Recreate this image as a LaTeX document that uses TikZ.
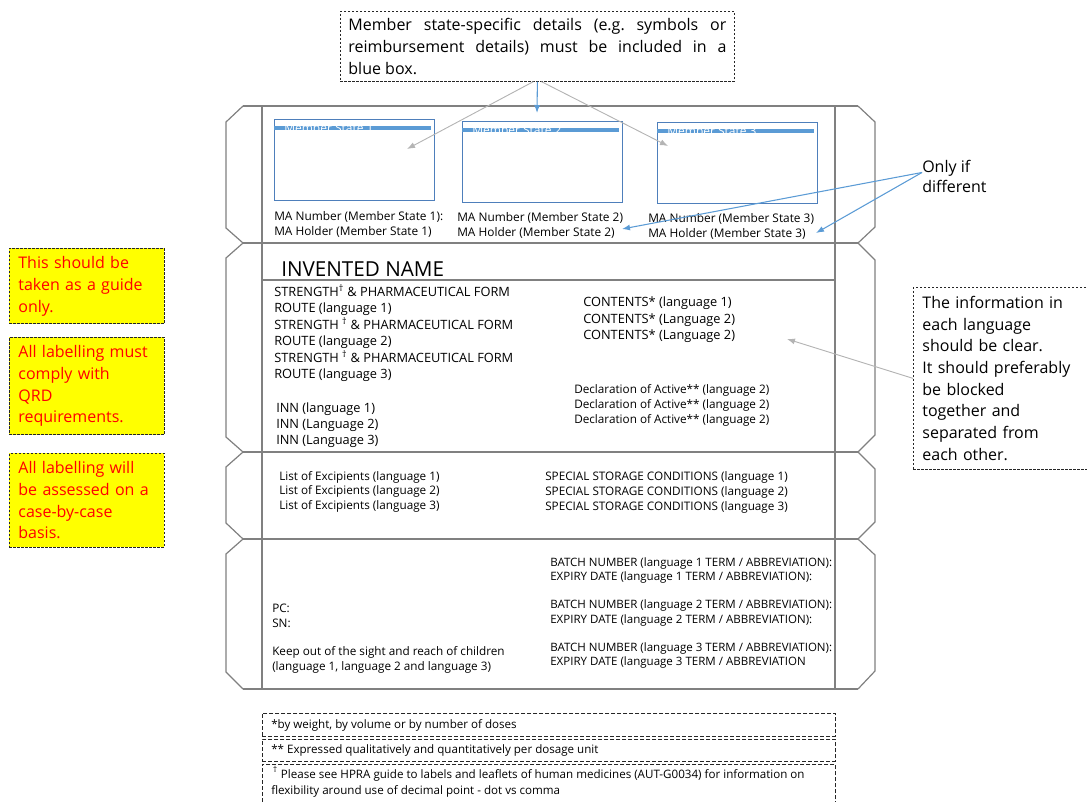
\documentclass[tikz,border=0pt]{standalone}
\usepackage{fontspec}
\setmainfont{Open Sans}
\usetikzlibrary{arrows.meta}
\definecolor{cgray}{HTML}{808080}
\definecolor{agray}{HTML}{B4B4B4}
\definecolor{sblue}{HTML}{5B9BD5}
\definecolor{bblue}{HTML}{4E7FBB}
\definecolor{yel}{HTML}{FFFF00}
\definecolor{rtxt}{HTML}{FF0000}
\newcommand{\fsz}[2]{\fontsize{#1}{#2}\selectfont}
\frenchspacing
\begin{document}
\begin{tikzpicture}[x=0.75pt,y=-0.75pt,
 carton/.style={draw=cgray,line width=0.9pt,line join=miter},
 txt/.style={anchor=base west,inner sep=0pt,font=\fsz{9.6}{11}},
 stxt/.style={anchor=base west,inner sep=0pt,font=\fsz{8.8}{10}},
 btxt/.style={anchor=base west,inner sep=0pt,font=\fsz{8.65}{10}},
 matxt/.style={anchor=base west,inner sep=0pt,font=\fsz{8.9}{10}},
 fntxt/.style={anchor=base west,inner sep=0pt,font=\fsz{8.7}{10}},
 notebox/.style={draw=black!85,line width=0.6pt,dash pattern=on 1.8pt off 1.2pt},
 fnbox/.style={draw=black!85,line width=0.6pt,dash pattern=on 3pt off 1.5pt,anchor=north west,inner sep=0pt,minimum width=429.75pt},
 ybox/.style={notebox,fill=yel,anchor=north west,align=left,text=rtxt,font=\fsz{12}{16.3},inner xsep=6.75pt,inner ysep=6pt,text width=102.75pt},
 msbox/.style={draw=bblue,line width=0.8pt,anchor=north west,minimum width=120pt,minimum height=61pt,inner sep=0pt},
 msbar/.style={draw=sblue,line width=2.4pt},
 mslabel/.style={anchor=west,inner sep=0pt,text=white,font=\fsz{9}{10}},
 garrow/.style={draw=agray,line width=0.7pt,-{Latex[length=6pt,width=4.5pt]}},
 barrow/.style={draw=sblue,line width=0.8pt,-{Latex[length=6pt,width=4.5pt]}},
]
\useasboundingbox (0,0) rectangle (1087,801);

% ---------- carton outline ----------
\draw[carton] (243,106) -- (858,106);
\draw[carton] (243,243) -- (858,243);
\draw[carton] (243,452) -- (858,452);
\draw[carton] (243,539) -- (858,539);
\draw[carton] (243,689) -- (858,689);
\draw[carton] (262,106) -- (262,689);
\draw[carton] (835,106) -- (835,689);
\draw[carton] (262,280) -- (835,280);
\draw[carton] (243,106) -- (226,122) -- (226,228) -- (243,243) -- (226,258) -- (226,437) -- (243,452)
  -- (226,467) -- (226,523) -- (243,539) -- (226,554) -- (226,672) -- (243,689);
\draw[carton] (858,106) -- (875,122) -- (875,227) -- (858,243) -- (875,260) -- (875,435) -- (858,452)
  -- (875,469) -- (875,522) -- (858,539) -- (875,555) -- (875,671) -- (858,689);

% ---------- member state boxes ----------
\node[msbox] (ms1) at (274,119) {};
\node[msbox] (ms2) at (462,121) {};
\node[msbox] (ms3) at (657,122) {};
\draw[msbar] ([yshift=-6.75pt]ms1.north west) -- ++(157,0);
\draw[msbar] ([yshift=-6.75pt]ms2.north west) -- ++(157,0);
\draw[msbar] ([yshift=-6.75pt]ms3.north west) -- ++(157,0);
\node[mslabel] (ml1) at ([xshift=7.5pt,yshift=-6.75pt]ms1.north west) {Member State 1};
\node[mslabel] (ml2) at ([xshift=7.5pt,yshift=-6.75pt]ms2.north west) {Member State 2};
\node[mslabel] (ml3) at ([xshift=7.5pt,yshift=-6.75pt]ms3.north west) {Member State 3};

\node[matxt] (man1) at (274,220) {MA Number (Member State 1):};
\node[matxt] (mah1) at (274,235) {MA Holder (Member State 1)};
\node[matxt] (man2) at (457,221) {MA Number (Member State 2)};
\node[matxt] (mah2) at (457,236) {MA Holder (Member State 2)};
\node[matxt] (man3) at (648,222) {MA Number (Member State 3)};
\node[matxt] (mah3) at (648,237) {MA Holder (Member State 3)};

% ---------- main panel ----------
\node[anchor=base west,inner sep=0pt,font=\fsz{15.5}{18}] (inv) at (281,276) {INVENTED NAME};
\node[txt] (s1) at (274,296) {STRENGTH\textsuperscript{†} \& PHARMACEUTICAL FORM};
\node[txt] (r1) at (274,312) {ROUTE (language 1)};
\node[txt] (s2) at (274,329) {STRENGTH \textsuperscript{†} \& PHARMACEUTICAL FORM};
\node[txt] (r2) at (274,345) {ROUTE (language 2)};
\node[txt] (s3) at (274,362) {STRENGTH \textsuperscript{†} \& PHARMACEUTICAL FORM};
\node[txt] (r3) at (274,378) {ROUTE (language 3)};
\node[txt] (inn1) at (276,412) {INN (language 1)};
\node[txt] (inn2) at (276,428) {INN (Language 2)};
\node[txt] (inn3) at (276,444) {INN (Language 3)};
\node[txt] (c1) at (583,306) {CONTENTS* (language 1)};
\node[txt] (c2) at (583,323) {CONTENTS* (Language 2)};
\node[txt] (c3) at (583,339) {CONTENTS* (Language 2)};
\node[stxt] (d1) at (574,393) {Declaration of Active** (language 2)};
\node[stxt] (d2) at (574,408) {Declaration of Active** (language 2)};
\node[stxt] (d3) at (574,423) {Declaration of Active** (language 2)};

% ---------- side panel ----------
\node[stxt] (e1) at (279,480) {List of Excipients (language 1)};
\node[stxt] (e2) at (279,494) {List of Excipients (language 2)};
\node[stxt] (e3) at (279,509) {List of Excipients (language 3)};
\node[stxt] (sp1) at (545,480) {SPECIAL STORAGE CONDITIONS (language 1)};
\node[stxt] (sp2) at (545,495) {SPECIAL STORAGE CONDITIONS (language 2)};
\node[stxt] (sp3) at (545,510) {SPECIAL STORAGE CONDITIONS (language 3)};

% ---------- bottom panel ----------
\node[btxt] (b1) at (550,566) {BATCH NUMBER (language 1 TERM / ABBREVIATION):};
\node[btxt] (x1) at (550,580) {EXPIRY DATE (language 1 TERM / ABBREVIATION):};
\node[btxt] (b2) at (550,608) {BATCH NUMBER (language 2 TERM / ABBREVIATION):};
\node[btxt] (x2) at (550,623) {EXPIRY DATE (language 2 TERM / ABBREVIATION):};
\node[btxt] (b3) at (550,651) {BATCH NUMBER (language 3 TERM / ABBREVIATION):};
\node[btxt] (x3) at (550,665) {EXPIRY DATE (language 3 TERM / ABBREVIATION};
\node[stxt] (pc) at (272,612) {PC:};
\node[stxt] (sn) at (272,627) {SN:};
\node[stxt] (k1) at (272,655) {Keep out of the sight and reach of children};
\node[stxt] (k2) at (272,670) {(language 1, language 2 and language 3)};

% ---------- footnotes ----------
\node[fnbox,minimum height=17.25pt] (fb1) at (262,713) {};
\node[fnbox,minimum height=16.5pt] (fb2) at (262,739) {};
\node[fnbox,minimum height=37.5pt] (fb3) at (262,764) {};
\node[fntxt] (f1) at (271,728) {*by weight, by volume or by number of doses};
\node[fntxt] (f2) at (271,753) {** Expressed qualitatively and quantitatively per dosage unit};
\node[fntxt] (f3) at (271,778) {\,\textsuperscript{†} Please see HPRA guide to labels and leaflets of human medicines (AUT-G0034) for information on};
\node[fntxt] (f4) at (271,794) {flexibility around use of decimal point - dot vs comma};

% ---------- notes ----------
\node[notebox,anchor=north west,align=left,font=\fsz{12}{16.5},inner xsep=6pt,inner ysep=5pt] (topnote) at (340,11)
 {\makebox[283.5pt][s]{Member state-specific details (e.g. symbols or}\\\makebox[283.5pt][s]{reimbursement details) must be included in a}\\blue box.};
\node[notebox,anchor=north west,align=left,font=\fsz{12}{16.3},inner xsep=6.75pt,inner ysep=6.5pt,text width=130pt] (infonote) at (913,287)
 {The information in\\each language\\should be clear.\\It should preferably\\be blocked\\together and\\separated from\\each other.};
\node[anchor=north west,align=left,font=\fsz{12}{15},inner sep=0pt] (onlyif) at (922,160) {Only if\\different};

\node[ybox] (y1) at (9,248) {This should be\\taken as a guide\\only.};
\node[ybox] (y2) at (9,337) {All labelling must\\comply with\\QRD\\requirements.};
\node[ybox] (y3) at (9,453) {All labelling will\\be assessed on a\\case-by-case\\basis.};

% ---------- connectors ----------
\coordinate (t1) at (407,149);
\coordinate (t2) at (537,113);
\coordinate (t3) at (668,146);
\coordinate (t4) at (787,339);
\coordinate (o1) at (622,229);
\coordinate (o2) at (816,233);
\draw[garrow] ([xshift=-3pt]topnote.south) -- (t1);
\draw[barrow] (topnote.south) -- (t2);
\draw[garrow] ([xshift=3pt]topnote.south) -- (t3);
\draw[garrow] (infonote.west) -- (t4);
\draw[barrow] ([yshift=3pt]onlyif.west) -- (o1);
\draw[barrow] ([yshift=3pt]onlyif.west) -- (o2);
\end{tikzpicture}
\end{document}
